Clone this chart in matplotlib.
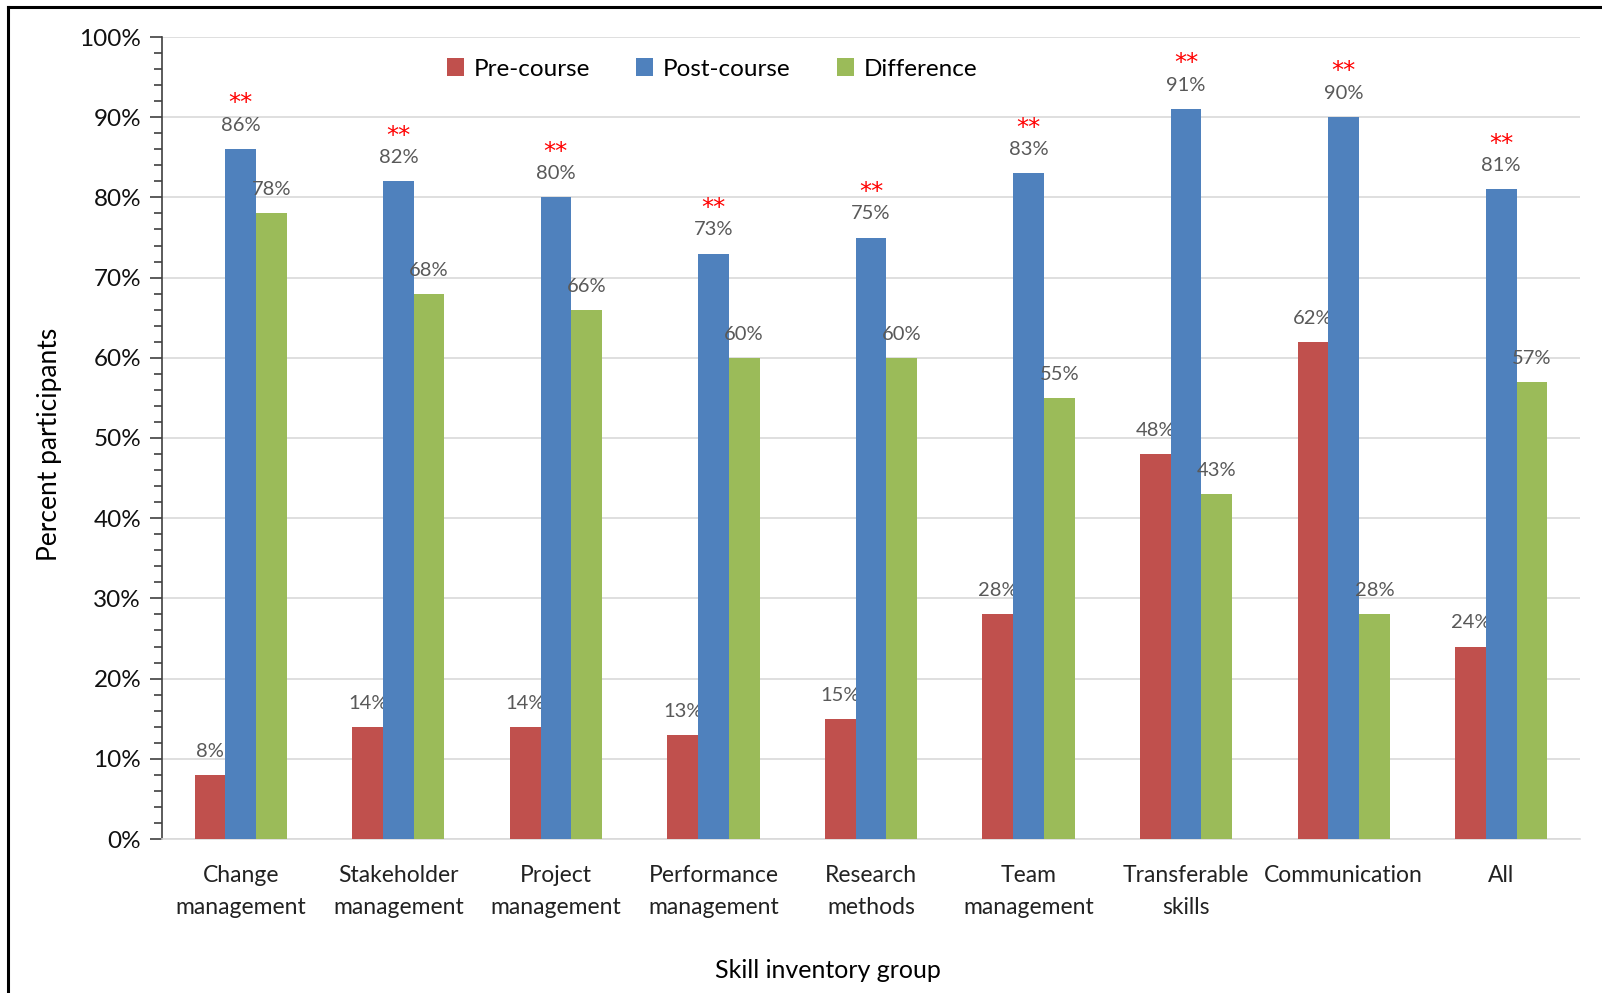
import matplotlib
matplotlib.use("Agg")
import matplotlib.pyplot as plt
import numpy as np
from matplotlib.ticker import MultipleLocator, FuncFormatter
from matplotlib.lines import Line2D

categories = ["Change\nmanagement", "Stakeholder\nmanagement", "Project\nmanagement",
              "Performance\nmanagement", "Research\nmethods", "Team\nmanagement",
              "Transferable\nskills", "Communication", "All"]
pre_course = [8, 14, 14, 13, 15, 28, 48, 62, 24]
post_course = [86, 82, 80, 73, 75, 83, 91, 90, 81]
difference = [78, 68, 66, 60, 60, 55, 43, 28, 57]
significant = [True] * 9
series_names = ["Pre-course", "Post-course", "Difference"]
colors = ["#C0504D", "#4F81BD", "#9BBB59"]

plt.rcParams['font.family'] = ['Lato', 'DejaVu Sans']

fig = plt.figure(figsize=(16.02, 9.93), dpi=100)
ax = fig.add_axes([162/1602, 1 - 839/993, (1580-162)/1602, (839-37)/993])

x = np.arange(len(categories))
w = 0.195
series = [pre_course, post_course, difference]
for i, (vals, name, c) in enumerate(zip(series, series_names, colors)):
    pos = x + (i - 1) * w
    ax.bar(pos, vals, width=w, color=c, label=name, zorder=3)
    for px, v in zip(pos, vals):
        ax.annotate(f"{v}%", (px, v), xytext=(0, 17), textcoords="offset points",
                    ha="center", va="center", fontsize=14.5, color="#595959")

for px, v, s in zip(x, post_course, significant):
    if s:
        ax.annotate("**", (px, v), xytext=(0, 33), textcoords="offset points",
                    ha="center", va="center", fontsize=17.5, color="#FF0000",
                    family="DejaVu Sans")

ax.set_xlim(-0.5, len(categories) - 0.5)
ax.set_ylim(0, 100)
ax.yaxis.set_major_locator(MultipleLocator(10))
ax.yaxis.set_minor_locator(MultipleLocator(2))
ax.yaxis.set_major_formatter(FuncFormatter(lambda v, p: f"{v:.0f}%"))
ax.grid(axis="y", which="major", color="#D9D9D9", linewidth=1.2, zorder=0)
ax.set_axisbelow(True)

ax.set_xticks(x)
ax.set_xticklabels(categories, fontsize=16.5, color="#222222", linespacing=1.6)
ax.tick_params(axis="x", length=0, pad=19)
ax.tick_params(axis="y", which="major", length=9, width=1.2, color="#404040",
               labelsize=17.5, pad=6, labelcolor="#111111")
ax.tick_params(axis="y", which="minor", length=6, width=1.2, color="#404040")

for s in ["top", "right"]:
    ax.spines[s].set_visible(False)
ax.spines["left"].set_color("#404040")
ax.spines["left"].set_linewidth(1.2)
ax.spines["bottom"].set_color("#D9D9D9")
ax.spines["bottom"].set_linewidth(1.2)

fig.text(50/1602, 1 - 444/993, "Percent participants", rotation=90, ha="center",
         va="center", fontsize=19)
fig.text(828/1602, 1 - 971/993, "Skill inventory group", ha="center", va="center",
         fontsize=18)

leg = ax.legend(loc="center", bbox_to_anchor=((712-162)/1418, (839-69)/802),
                ncol=3, frameon=False, fontsize=17.5, handlelength=0.7, handleheight=0.7,
                handletextpad=0.4, columnspacing=1.9)

# outer frame (top and left edges visible)
fig.add_artist(Line2D([8/1602, 8/1602], [0, 1 - 7/993], transform=fig.transFigure,
                      color="black", linewidth=2.2))
fig.add_artist(Line2D([8/1602, 1], [1 - 7/993, 1 - 7/993], transform=fig.transFigure,
                      color="black", linewidth=2.2))

fig.savefig("out.png", dpi=100)
